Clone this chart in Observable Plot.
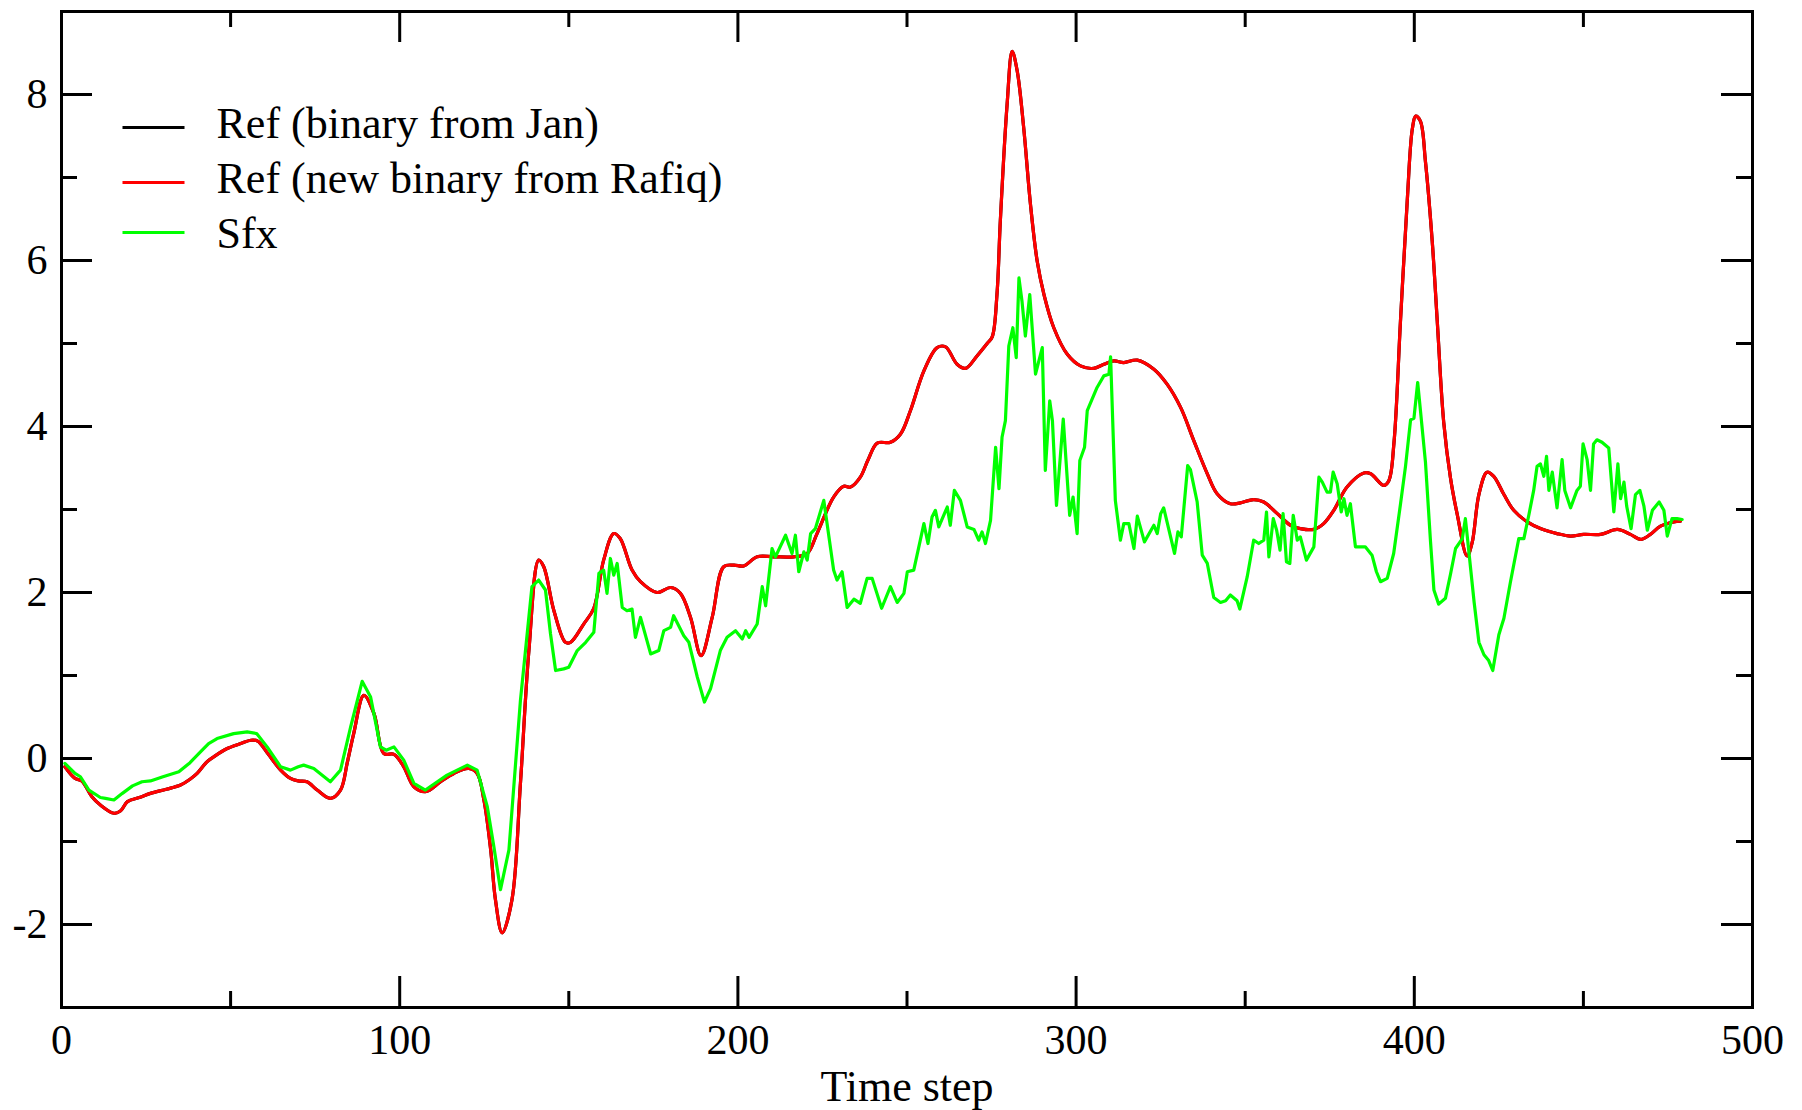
<!DOCTYPE html>
<html><head><meta charset="utf-8">
<script src="https://cdn.jsdelivr.net/npm/d3@7"></script>
<script src="https://cdn.jsdelivr.net/npm/@observablehq/plot@0.6"></script>
<style>
html,body{margin:0;padding:0;background:#fff;}
#chart{width:1802px;height:1110px;overflow:hidden;}
</style></head><body><div id="chart"></div>
<script>
// ---- data ----
const refSteps = [1,4,6,9,11.5,15.5,17.5,19.5,23,26.3,31,35.2,38,40.1,43,45,49,53,56,58,61,64.8,67.7,70,72.6,75.6,79.5,82.5,84.5,86.4,89.4,92.4,95.3,98.3,101.2,104.2,107.6,112.1,116,120.4,122.9,124.9,126.9,128.3,130.3,133.2,135.7,138.2,141.1,142.6,145.6,149,150.5,154.4,157.4,160.3,163.3,165.2,168.7,171.2,176.1,180.1,183,186,189.1,192.4,195.8,198.8,201.7,205.7,210.6,216.5,220.5,223.4,228.3,231.3,233.3,236.2,238.5,241.2,245.1,248.1,251,255,258.9,261.4,264.8,267.3,270.7,273.7,275.2,276.6,277.6,279.6,281.1,282.6,284.5,286.5,288.5,290.5,293.4,297.4,301.3,305.2,308.2,311.2,314.1,318.1,323,326.9,330.9,334.8,338.8,341.7,345.6,348.6,352.5,355.5,359.5,363.4,366.3,370.3,373.2,376.2,380.1,385.1,387.1,391,392.5,394,395.9,397.9,399.4,400.4,401.8,403.3,405.3,406.8,408.7,410.7,412.7,415.6,417.1,419.1,421.5,423.5,426.5,429.4,433.4,437.3,442.2,446.2,450.1,455.1,460,463.9,466.9,469.8,472.8,476.7,478.7];
const refValues = [-0.10,-0.24,-0.27,-0.46,-0.56,-0.66,-0.63,-0.52,-0.47,-0.42,-0.37,-0.32,-0.25,-0.18,-0.04,0.02,0.12,0.18,0.22,0.21,0.06,-0.14,-0.24,-0.27,-0.28,-0.38,-0.48,-0.38,-0.05,0.30,0.76,0.54,0.06,0.05,-0.10,-0.34,-0.40,-0.28,-0.18,-0.12,-0.18,-0.50,-1.10,-1.70,-2.10,-1.70,-0.30,1.30,2.39,2.31,1.78,1.40,1.40,1.62,1.81,2.39,2.71,2.65,2.27,2.13,2.00,2.06,1.99,1.70,1.24,1.70,2.31,2.33,2.32,2.43,2.43,2.43,2.47,2.71,3.15,3.28,3.27,3.39,3.60,3.80,3.81,3.91,4.19,4.67,4.95,4.96,4.75,4.70,4.85,5.00,5.08,5.59,6.48,7.88,8.52,8.28,7.60,6.68,5.99,5.59,5.19,4.87,4.73,4.70,4.75,4.79,4.77,4.80,4.69,4.51,4.23,3.83,3.43,3.19,3.07,3.08,3.12,3.09,2.95,2.81,2.77,2.76,2.83,2.99,3.27,3.44,3.43,3.29,3.35,3.81,5.26,6.71,7.58,7.74,7.68,7.19,6.23,5.26,4.05,3.38,2.94,2.44,2.60,3.18,3.45,3.40,3.18,2.99,2.85,2.77,2.71,2.68,2.70,2.70,2.76,2.70,2.64,2.70,2.80,2.85,2.86];
// the old binary curve lies exactly under the new one
const refJanValues = refValues;

const sfxSteps = [1,4,5.6,8.1,11.5,13,15.5,18,21,23.8,26.3,30,34.7,38,41.3,43.5,46,50.9,54.9,57.7,60.8,64.8,67.7,70,71.6,74.6,79.5,82.5,85.5,88.9,91.4,94.3,96,98.3,101.2,104.2,107.6,114,120,122.9,125.9,127.8,129.8,132.3,135.7,139.1,141.1,143.1,144.6,146.1,148.5,150,152.5,155,157.4,158.9,160.3,161.3,162.3,163.3,164.3,165.8,167.2,168.7,169.7,171.2,174.2,176.6,178.1,180.1,181,184,185.5,188,190.1,191.9,194.8,196.8,199.3,201.3,202.3,203.3,205.7,207.2,208.2,210.1,211.1,214.1,216,217,218,219.5,220.5,221.5,222.9,225.4,228.3,229.3,230.8,232.3,234.3,236.2,238.2,239.7,242.5,245.1,247.1,249.1,250.1,252,255,256.2,257.4,258.4,259.4,261.9,262.8,264,265.8,267.8,269.8,271.2,272.2,273.2,274.7,276.2,277.2,278.1,279.1,280.1,281.3,282.3,283.1,284,285,286.3,288,290,290.9,292.2,293,294.2,296.2,298.1,299.1,300.3,301.1,302.5,303.3,306.2,308.2,309.7,310.2,311.6,313.1,314.1,315.6,317.1,318.1,320.2,323,324,325,325.9,329.1,330.1,331.1,333,333.8,335.8,337.3,338.8,340.7,342.7,344.2,345.6,347.6,348.4,350.6,352.5,354,355.5,356.3,357,358.3,359.3,360.3,361.2,362.2,363.2,364.2,365.4,366.3,368.1,370.3,371.8,372.8,374.2,375.2,376,377.2,378.4,379.2,380.1,381.1,382.6,385.5,387.5,388.8,390,392,393.9,395.9,397.4,398.9,399.9,401,401.8,403.3,404.8,405.8,407.2,409.2,410.7,412.2,414.2,415.1,415.6,417.7,419.1,420.6,422,423.2,425,426.5,428.4,430.9,432.4,433.9,435.3,436.3,437.3,438.3,439.1,439.8,440.8,442.2,443.7,444.5,446.2,448.1,449.1,449.9,451.1,452.1,453,454,455.5,457.5,459,460.2,461,462,462.8,464.1,465.4,466.7,467.9,468.9,470.4,472.4,473.8,474.8,476.2,477.7,479.2];
const sfxValues = [-0.06,-0.18,-0.22,-0.38,-0.47,-0.48,-0.50,-0.42,-0.33,-0.28,-0.27,-0.22,-0.16,-0.05,0.09,0.18,0.24,0.30,0.32,0.30,0.14,-0.10,-0.14,-0.10,-0.08,-0.12,-0.28,-0.14,0.38,0.93,0.74,0.14,0.10,0.14,-0.02,-0.30,-0.38,-0.20,-0.08,-0.14,-0.58,-1.05,-1.58,-1.10,0.70,2.07,2.15,2.03,1.50,1.06,1.08,1.10,1.30,1.40,1.52,2.23,2.27,1.99,2.41,2.21,2.35,1.82,1.78,1.80,1.46,1.70,1.26,1.30,1.54,1.58,1.72,1.48,1.40,0.98,0.68,0.84,1.30,1.46,1.54,1.44,1.54,1.46,1.62,2.07,1.84,2.53,2.43,2.69,2.47,2.69,2.25,2.49,2.39,2.71,2.77,3.11,2.27,2.15,2.25,1.82,1.92,1.87,2.17,2.17,1.81,2.07,1.88,1.99,2.25,2.27,2.83,2.59,2.91,2.99,2.79,3.03,2.81,3.23,3.11,2.79,2.76,2.63,2.73,2.59,2.87,3.75,3.25,3.87,4.07,4.97,5.19,4.83,5.79,5.51,5.09,5.59,4.63,4.95,3.47,4.31,4.07,3.05,4.09,2.93,3.15,2.71,3.59,3.75,4.19,4.47,4.61,4.63,4.84,3.11,2.63,2.83,2.83,2.53,2.92,2.61,2.81,2.71,2.95,3.02,2.47,2.73,2.67,3.53,3.48,3.09,2.45,2.35,1.94,1.88,1.90,1.97,1.90,1.80,2.19,2.63,2.59,2.63,2.97,2.43,2.89,2.75,2.51,2.95,2.37,2.35,2.93,2.63,2.67,2.39,2.55,3.39,3.33,3.21,3.21,3.45,3.31,2.97,3.13,2.93,3.07,2.55,2.55,2.45,2.25,2.13,2.17,2.47,3.06,3.52,4.08,4.10,4.53,4.20,3.57,2.61,2.03,1.86,1.93,2.22,2.53,2.65,2.89,2.70,1.88,1.40,1.25,1.18,1.06,1.49,1.69,2.12,2.65,2.65,2.94,3.23,3.52,3.55,3.40,3.64,3.23,3.45,3.02,3.60,3.23,3.02,3.23,3.28,3.79,3.60,3.23,3.79,3.84,3.81,3.74,2.97,3.55,3.13,3.33,3.04,2.77,3.18,3.23,3.04,2.75,2.99,3.09,2.99,2.68,2.89,2.89,2.88];

const seriesNames = ["Ref (binary from Jan)", "Ref (new binary from Rafiq)", "Sfx"];
const seriesColors = ["#000000", "#ff0000", "#00ff00"];
const xMajorTicks = [0, 100, 200, 300, 400, 500];
const xMinorTicks = [50, 150, 250, 350, 450];
const yMajorTicks = [-2, 0, 2, 4, 6, 8];
const yMinorTicks = [-1, 1, 3, 5, 7];
const xTitle = "Time step";

// ---- build tables ----
const refJanRows = refSteps.map((t, i) => ({t, v: refJanValues[i]}));
const refRows = refSteps.map((t, i) => ({t, v: refValues[i]}));
const sfxRows = sfxSteps.map((t, i) => ({t, v: sfxValues[i]}));

// ---- layout ----
const W = 1802, H = 1110;
const mL = 61, mR = 50, mT = 11, mB = 103;
const fw = W - mL - mR, fh = H - mT - mB;
const font = "'Liberation Serif', 'Times New Roman', serif";
const majorLen = 31, minorLen = 16, tickW = 3;
const lineW = 3.2;

function tickMarks() {
  const m = [];
  const sx = (vals, len) => [
    Plot.tickX(vals, {x: d => d, insetTop: fh - len, stroke: "black", strokeWidth: tickW}),
    Plot.tickX(vals, {x: d => d, insetBottom: fh - len, stroke: "black", strokeWidth: tickW})
  ];
  const sy = (vals, len) => [
    Plot.tickY(vals, {y: d => d, insetRight: fw - len, stroke: "black", strokeWidth: tickW}),
    Plot.tickY(vals, {y: d => d, insetLeft: fw - len, stroke: "black", strokeWidth: tickW})
  ];
  m.push(...sx(xMajorTicks.slice(1, -1), majorLen), ...sx(xMinorTicks, minorLen));
  m.push(...sy(yMajorTicks, majorLen), ...sy(yMinorTicks, minorLen));
  return m;
}

function legendMarks() {
  const m = [];
  const lineY = [127, 182, 232];
  const textY = [137, 192, 247];
  seriesNames.forEach((name, i) => {
    m.push(Plot.frame({fill: seriesColors[i], stroke: null,
      insetLeft: 122 - mL, insetRight: (W - mR) - 184,
      insetTop: lineY[i] - 1.5 - mT, insetBottom: (H - mB) - (lineY[i] + 1.5)}));
    m.push(Plot.text([name], {text: d => d, frameAnchor: "top-left", dx: 216 - mL,
      dy: textY[i] - mT - 0.32 * 44, textAnchor: "start", lineAnchor: "middle",
      fontSize: 44, fontFamily: font, fill: "black"}));
  });
  return m;
}

const chart = Plot.plot({
  width: W, height: H,
  marginLeft: mL, marginRight: mR, marginTop: mT, marginBottom: mB,
  style: {fontFamily: font, background: "white", color: "black", overflow: "visible"},
  x: {domain: [0, 500]},
  y: {domain: [-3, 9]},
  marks: [
    Plot.line(refJanRows, {x: "t", y: "v", stroke: seriesColors[0], strokeWidth: lineW, curve: "catmull-rom", strokeLinejoin: "round"}),
    Plot.line(refRows, {x: "t", y: "v", stroke: seriesColors[1], strokeWidth: lineW, curve: "catmull-rom", strokeLinejoin: "round"}),
    Plot.line(sfxRows, {x: "t", y: "v", stroke: seriesColors[2], strokeWidth: lineW, strokeLinejoin: "round"}),
    ...tickMarks(),
    Plot.frame({stroke: "black", strokeWidth: 3}),
    Plot.axisX({ticks: xMajorTicks, tickSize: 0, tickPadding: 17, tickFormat: d => String(d),
      fontSize: 42, fontFamily: font, label: null}),
    Plot.axisY({ticks: yMajorTicks, tickSize: 0, tickPadding: 14, tickFormat: d => String(d),
      fontSize: 42, fontFamily: font, label: null}),
    Plot.text([xTitle], {text: d => d, frameAnchor: "bottom", dy: 62, lineAnchor: "top",
      fontSize: 44, fontFamily: font, fill: "black"}),
    ...legendMarks()
  ]
});
document.getElementById("chart").appendChild(chart);
</script></body></html>
